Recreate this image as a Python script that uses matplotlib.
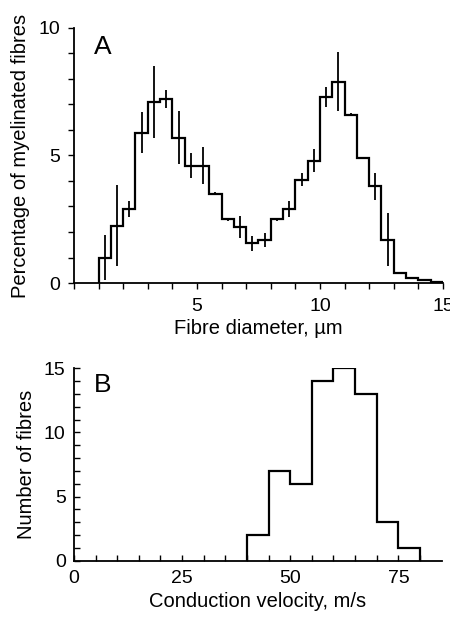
import matplotlib
matplotlib.use('Agg')
import matplotlib.pyplot as plt
import numpy as np

# Panel A: fibre diameter histogram (0.5 um bins, 1.0 - 15.0 um)
diam_edges = np.arange(1.0, 15.01, 0.5)
diam_pct = [1.0, 2.25, 2.9, 5.9, 7.1, 7.2, 5.7, 4.6, 4.6, 3.5, 2.5, 2.2, 1.55, 1.7,
            2.5, 2.9, 4.05, 4.8, 7.3, 7.9, 6.6, 4.9, 3.8, 1.7, 0.4, 0.2, 0.1, 0.05]
diam_err = [0.9, 1.6, 0.3, 0.8, 1.4, 0.35, 1.05, 0.48, 0.72, 0.05, 0.05, 0.43, 0.3, 0.27,
            0.05, 0.33, 0.26, 0.45, 0.4, 1.15, 0.05, 0.05, 0.53, 1.05, 0.05, 0.05, 0.0, 0.0]

# Panel B: conduction velocity histogram (5 m/s bins, 40 - 80 m/s)
vel_edges = np.arange(40, 81, 5)
vel_counts = [2, 7, 6, 14, 15, 13, 3, 1]

plt.rcParams.update({'font.family': ['Liberation Sans', 'DejaVu Sans'],
                     'font.size': 14})

fig = plt.figure(figsize=(4.5, 6.19), dpi=100)
axA = fig.add_axes([0.1644, 0.5428, 0.82, 0.412])
axB = fig.add_axes([0.1644, 0.0942, 0.817, 0.3108])

# A
axA.stairs(diam_pct, diam_edges, baseline=0, color='black', linewidth=1.6)
centers = (diam_edges[:-1] + diam_edges[1:]) / 2
axA.errorbar(centers, diam_pct, yerr=diam_err, fmt='none', ecolor='black',
             elinewidth=1.3, capsize=0)
axA.set_xlim(0, 15)
axA.set_ylim(0, 10)
axA.set_xticks([5, 10, 15])
axA.set_xticks(np.arange(0, 16, 1), minor=True)
axA.set_yticks([0, 5, 10])
axA.set_yticks(np.arange(0, 11, 1), minor=True)
axA.tick_params(which='both', direction='out', length=4, width=1)
axA.tick_params(axis='x', pad=7)
axA.tick_params(axis='y', pad=6)
axA.set_xlabel('Fibre diameter, µm', fontsize=14.5, labelpad=3)
axA.set_ylabel('Percentage of myelinated fibres', fontsize=14.5, labelpad=6)
axA.text(0.055, 0.925, 'A', transform=axA.transAxes, fontsize=19, va='center')

# B
axB.stairs(vel_counts, vel_edges, baseline=0, color='black', linewidth=1.6)
axB.set_xlim(0, 85)
axB.set_ylim(0, 15)
axB.set_xticks([0, 25, 50, 75])
axB.set_xticks(np.arange(0, 85, 5), minor=True)
axB.set_yticks([0, 5, 10, 15])
axB.set_yticks(np.arange(0, 16, 1), minor=True)
axB.tick_params(which='both', direction='in', length=4, width=1)
axB.tick_params(axis='x', pad=7)
axB.tick_params(axis='y', pad=6)
axB.set_xlabel('Conduction velocity, m/s', fontsize=14.5, labelpad=3)
axB.set_ylabel('Number of fibres', fontsize=14.5, labelpad=6)
axB.text(0.055, 0.913, 'B', transform=axB.transAxes, fontsize=19, va='center')

for ax in (axA, axB):
    ax.spines['top'].set_visible(False)
    ax.spines['right'].set_visible(False)
    ax.spines['left'].set_linewidth(1.3)
    ax.spines['bottom'].set_linewidth(1.3)

fig.savefig('out.png', dpi=100)
